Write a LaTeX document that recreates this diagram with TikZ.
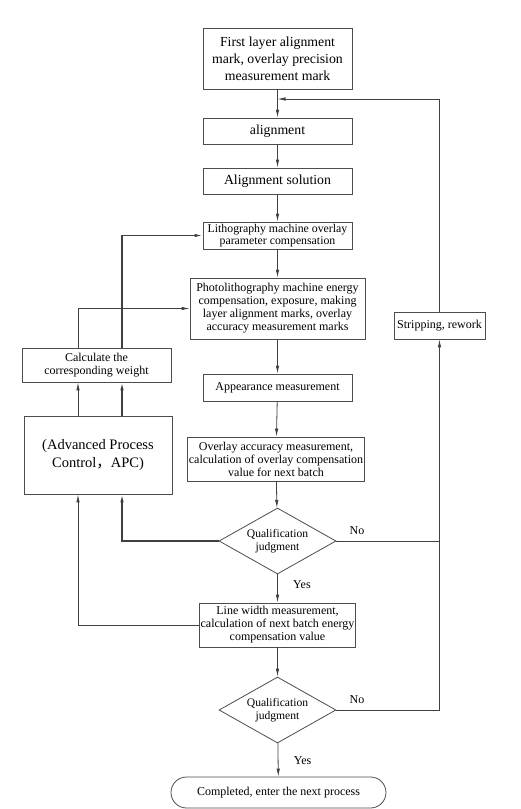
\documentclass[tikz,border=0pt]{standalone}
\usepackage{fontspec}
\setmainfont{Liberation Serif}
\newfontfamily\cjk{Noto Sans CJK SC}
\usetikzlibrary{arrows.meta,shapes.geometric,shapes.misc}

\begin{document}
\begin{tikzpicture}[x=1pt,y=-1pt,
  box/.style={draw=black!70,line width=0.8pt,align=center,inner sep=1pt,minimum width=149pt},
  big/.style={font=\fontsize{13.8}{17}\selectfont},
  small/.style={font=\fontsize{12}{13}\selectfont},
  judge/.style={draw=black!70,line width=0.8pt,diamond,aspect=1.8,inner sep=0pt,
    minimum width=117pt,minimum height=66pt,align=center,font=\fontsize{11.6}{13}\selectfont},
  line/.style={draw=black!75,line width=0.8pt},
  arr/.style={line,-{Latex[length=8pt,width=3.5pt]}},
  heavy/.style={line width=1.3pt},
  lab/.style={font=\fontsize{12}{13}\selectfont}]
  \useasboundingbox (0,0) rectangle (520,809);
  \node[box,big,minimum height=61pt] (mark) at (277.5,58.5) {First layer alignment\\mark, overlay precision\\measurement mark};
  \node[box,big,minimum height=26pt] (align) at (277.5,131) {alignment};
  \node[box,big,minimum height=26pt] (solve) at (277.5,181) {Alignment solution};
  \node[box,font=\fontsize{11.8}{12.5}\selectfont,minimum height=27pt] (litho) at (277.5,235.5) {Lithography machine overlay\\parameter compensation};
  \node[box,small,minimum width=175pt,minimum height=61pt] (expose) at (277.5,308.5) {Photolithography machine energy\\compensation, exposure, making\\layer alignment marks, overlay\\accuracy measurement marks};
  \node[box,small,minimum height=27pt] (appear) at (277.5,387.5) {Appearance measurement};
  \node[box,small,minimum width=172pt,minimum height=44pt] (overlay) at (276,459) {Overlay accuracy measurement,\\calculation of overlay compensation\\value for next batch};
  \node[judge] (judgeA) at (277.5,541) {Qualification\\judgment};
  \node[box,small,minimum height=44pt] (width) at (277.5,625) {Line width measurement,\\calculation of next batch energy\\compensation value};
  \node[judge] (judgeB) at (277.5,710) {Qualification\\judgment};
  \node[box,small,rounded rectangle,minimum width=217pt,minimum height=31pt] (done) at (278.5,792.5) {Completed, enter the next process};
  \node[box,small,minimum width=91pt,minimum height=27pt] (strip) at (439.5,325.5) {Stripping, rework};
  \node[box,small,minimum height=34pt] (weight) at (96.5,365) {Calculate the\\corresponding weight};
  \node[box,font=\fontsize{14.5}{18}\selectfont,minimum width=148pt,minimum height=78pt] (apc) at (98,455) {(Advanced Process\\Control{\cjk，}APC)};
  \coordinate (fb) at (277.5,99);
  \coordinate (l1) at (78,0);
  \coordinate (l2) at (122,0);
  \draw[arr] (mark) -- (align);
  \draw[arr] (align) -- (solve);
  \draw[arr] (solve) -- (litho);
  \draw[arr] (litho) -- (expose);
  \draw[arr] (expose) -- (appear);
  \draw[arr] (appear) -- (overlay);
  \draw[arr] (overlay) -- (judgeA);
  \draw[arr] (judgeA) -- node[lab,right,pos=0.38,xshift=12pt]{Yes} (width);
  \draw[arr] (width) -- (judgeB);
  \draw[arr] (judgeB) -- node[lab,right,pos=0.53,xshift=12pt]{Yes} (done);
  \draw[line] (judgeA.east) -- node[lab,above,pos=0.2,yshift=3pt]{No} (judgeA.east -| strip.south);
  \draw[arr] (judgeB.east) -- node[lab,above,pos=0.2,yshift=3pt]{No} (judgeB.east -| strip.south) -- (strip.south);
  \draw[arr] (strip.north) |- (fb);
  \draw[arr] (apc.north -| l1) -- (weight.south -| l1);
  \draw[arr,heavy] (apc.north -| l2) -- (weight.south -| l2);
  \draw[arr] (weight.north -| l1) |- (expose.west);
  \draw[arr,heavy] (weight.north -| l2) |- (litho.west);
  \draw[arr,heavy] (judgeA.west) -| (apc.south -| l2);
  \draw[arr] (width.west) -| (apc.south -| l1);
\end{tikzpicture}
\end{document}
